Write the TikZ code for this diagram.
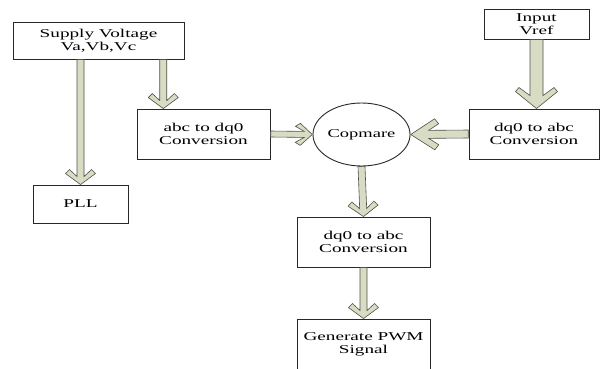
\documentclass[tikz,border=0pt]{standalone}
\usepackage{fontspec}
\setmainfont{Liberation Serif}
\usetikzlibrary{calc}
\definecolor{ArrowFill}{RGB}{216,220,196}
\definecolor{ArrowEdge}{RGB}{80,80,70}
\definecolor{BoxEdge}{RGB}{40,40,40}
\tikzset{
    % boxes (text is stretched sideways like the original)
    blockbox/.style={
        rectangle,
        draw=BoxEdge,
        fill=white,
        line width=0.9pt,
        inner sep=0pt,
        align=center,
        xscale=1.6,
        minimum width=#1/1.6,
        minimum height=50,
        font=\fontsize{12}{13}\selectfont
    },
    comparebox/.style={
        circle,
        draw=BoxEdge,
        fill=white,
        line width=0.9pt,
        inner sep=0pt,
        xscale=1.54,
        minimum size=63,
        font=\fontsize{12}{13}\selectfont
    },
    % frames for the block arrows
    sframe/.style={shift={(\p1)},rotate=\n1},
    tframe/.style={shift={(\p2)},rotate=\n1},
    % block arrow with a chevron head: L, H, w, p, q, j
    blockarrow/.style n args={6}{
        draw=ArrowEdge,
        fill=ArrowFill,
        line width=0.6pt,
        line join=miter,
        to path={
            let \p1=(\tikztostart), \p2=(\tikztotarget),
                \n1={atan2(\y2-\y1,\x2-\x1)} in
            ([sframe] 0,#3) -- ([tframe] {-#6},#3) -- ([tframe] {-#1-#4},{#2-#5})
            -- ([tframe] {-#1},#2) -- ([tframe] 0,0) -- ([tframe] {-#1},{-#2})
            -- ([tframe] {-#1-#4},{-#2+#5}) -- ([tframe] {-#6},{-#3})
            -- ([sframe] 0,{-#3}) -- cycle
        }
    },
    smallv/.style={blockarrow={11}{15}{3.5}{4}{4}{8}},
    smallh/.style={blockarrow={12}{11}{3}{5}{3}{8}},
    bigv/.style={blockarrow={17}{21}{6.5}{4}{3.5}{13}},
    bigh/.style={blockarrow={24}{15.5}{4}{4}{5}{18}}
}

\begin{document}
\begin{tikzpicture}[x=1pt,y=1pt]
    \useasboundingbox (0,0) rectangle (600,-368);
    \clip (0,0) rectangle (600,-368);

    % Blocks
    \node[blockbox=171,minimum height=37] (supply) at (98.5,-40.5) {Supply Voltage\\Va,Vb,Vc};
    \node[blockbox=105,minimum height=30] (input) at (536.5,-24) {Input\\Vref};
    \node[blockbox=133] (abc) at (203.5,-134) {abc to dq0\\Conversion};
    \node[comparebox] (compare) at (361.5,-134.5) {Copmare};
    \node[blockbox=130] (dqr) at (534,-134) {dq0 to abc\\Conversion};
    \node[blockbox=95,minimum height=38] (pll) at (80.5,-204) {PLL};
    \node[blockbox=133] (dqb) at (363.5,-242) {dq0 to abc\\Conversion};
    \node[blockbox=133,minimum height=51] (pwm) at (363.5,-344.5) {Generate PWM\\Signal};

    % Block arrows
    \coordinate (abcin) at ([xshift=27]abc.north west);
    \path[smallv] (supply.south -| pll.north) to (pll.north);
    \path[smallv] (supply.south -| abcin) to (abcin);
    \path[smallh] (abc.east) to (compare.west);
    \path[bigv] (input.south) to (input.south |- dqr.north);
    \path[bigh] (dqr.west) to (compare.east);
    \path[smallv] (compare.south) to (dqb.north);
    \path[smallv] (dqb.south) to (pwm.north);
\end{tikzpicture}
\end{document}
